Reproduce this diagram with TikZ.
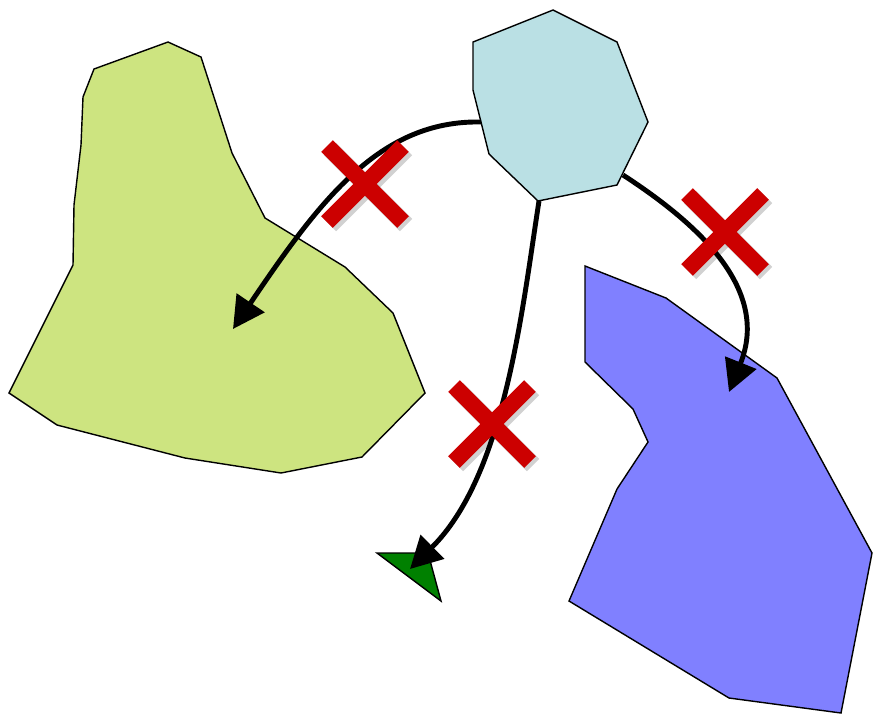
\documentclass[tikz,border=0pt]{standalone}
\usepackage{tikz}
\usetikzlibrary{arrows.meta, math}

\definecolor{landgreen}{RGB}{205,228,128}
\definecolor{landblue}{RGB}{128,128,255}
\definecolor{landcyan}{RGB}{186,224,228}
\definecolor{targetgreen}{RGB}{0,128,0}
\definecolor{crossred}{RGB}{204,0,0}

\begin{document}
\begin{tikzpicture}[x=0.03cm, y=-0.03cm, >={Triangle[length=27pt,width=28pt]},
  region/.style={draw=black, line width=1.2pt, line join=miter},
  link/.style={->, line width=4.2pt},
  crossbar/.style={line width=14pt, color=crossred},
  crossshade/.style={line width=15pt, color=black, opacity=0.18}]

\tikzmath{ \h = 38; }

\useasboundingbox (0,0) rectangle (873,716);

% regions
\filldraw[region, fill=landgreen] (168,42) -- (201,57) -- (232,153) -- (265,218) -- (345,267)
  -- (393,313) -- (425,393) -- (362,457) -- (281,473) -- (185,458) -- (57,425) -- (9,393)
  -- (73,265) -- (74,205) -- (81,145) -- (83,97) -- (94,69) -- cycle;

\filldraw[region, fill=landblue] (585,266) -- (666,298) -- (777,378) -- (872,553) -- (841,713)
  -- (729,698) -- (569,601) -- (617,489) -- (648,442) -- (633,409) -- (585,362) -- cycle;

\filldraw[region, fill=landcyan] (553,10) -- (617,42) -- (648,122) -- (617,185) -- (538,201)
  -- (489,154) -- (473,90) -- (473,42) -- cycle;

\filldraw[region, fill=targetgreen] (377,553) -- (428,553) -- (441,601) -- cycle;

% ends of the links
\coordinate (cyan-w) at (481,122);
\coordinate (cyan-se) at (623,175);
\coordinate (cyan-s) at (539,201);
\coordinate (green-in) at (233,329);
\coordinate (blue-in) at (729,392);
\coordinate (target-in) at (410,569);

\draw[link] (cyan-w) .. controls (380,120) and (320,200) .. (green-in);
\draw[link] (cyan-se) .. controls (700,225) and (770,290) .. (blue-in);
\draw[link] (cyan-s) .. controls (522,310) and (505,475) .. (target-in);

% crosses
\foreach \name/\cx/\cy in {xa/365/184, xb/725/232, xc/492/424}{
  \coordinate (\name) at (\cx,\cy);
  \draw[crossshade] ([shift={(-\h+3,-\h+3)}]\name) -- ([shift={(\h+3,\h+3)}]\name);
  \draw[crossshade] ([shift={(\h+3,-\h+3)}]\name) -- ([shift={(-\h+3,\h+3)}]\name);
  \draw[crossbar] ([shift={(-\h,-\h)}]\name) -- ([shift={(\h,\h)}]\name);
  \draw[crossbar] ([shift={(\h,-\h)}]\name) -- ([shift={(-\h,\h)}]\name);
}

\end{tikzpicture}
\end{document}
